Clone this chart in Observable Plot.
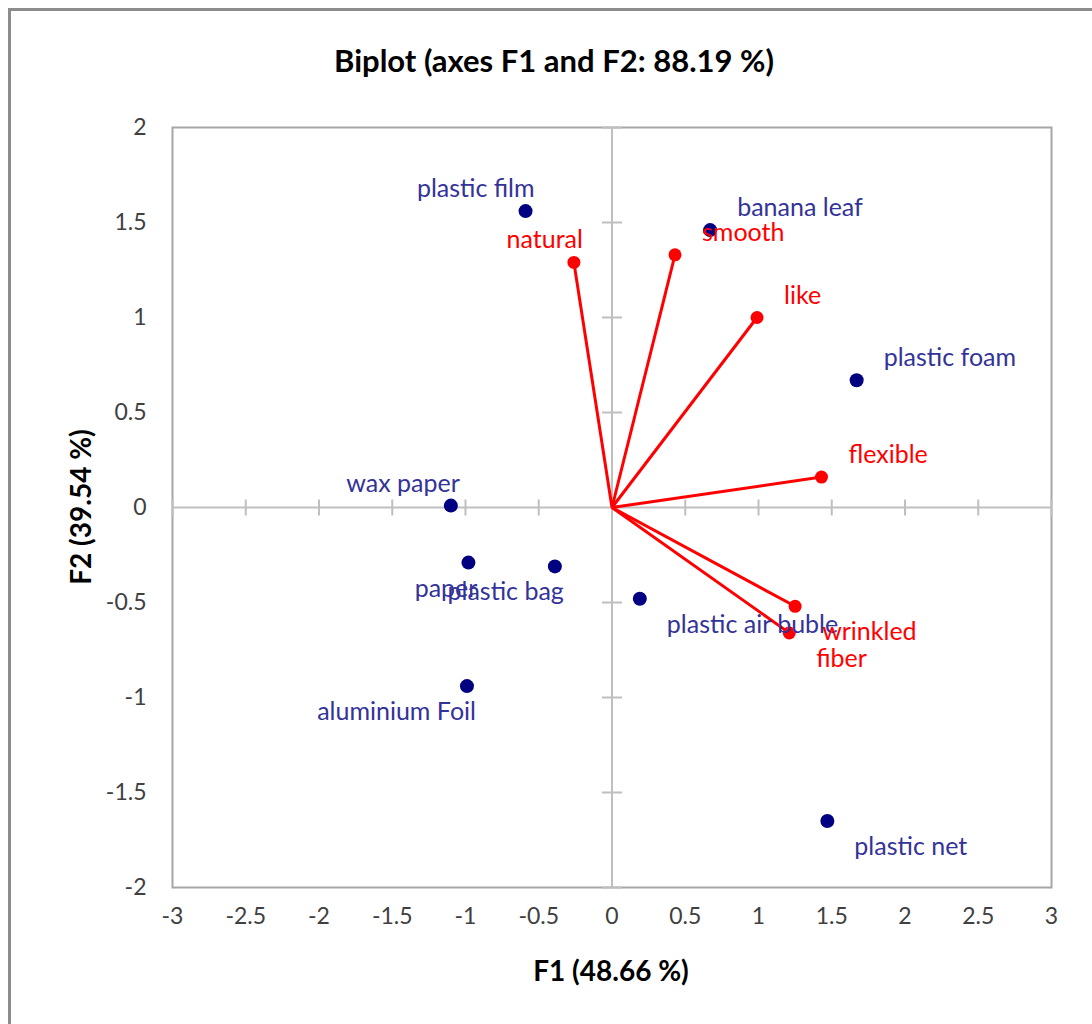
<!DOCTYPE html>
<html>
<head>
<meta charset="utf-8">
<script src="https://cdn.jsdelivr.net/npm/d3@7"></script>
<script src="https://cdn.jsdelivr.net/npm/@observablehq/plot@0.6"></script>
<style>
  html, body { margin: 0; padding: 0; background: #fff; overflow: hidden; width: 1092px; height: 1024px; }
  #page { position: relative; width: 1092px; height: 1024px; font-family: Lato, "Open Sans", sans-serif; }
  #outer { position: absolute; left: 8px; top: 8px; width: 1200px; height: 1200px; border: 3px solid #8c8c8c; box-sizing: border-box; }
  #chart { position: absolute; left: 0; top: 0; }
  .title { position: absolute; left: 0; width: 1108px; top: 41px; line-height: 38px; text-align: center; font-weight: bold; font-size: 31px; color: #000; }
  .xlabel { position: absolute; left: 0; width: 1222px; top: 953px; line-height: 34px; text-align: center; font-weight: bold; font-size: 28px; color: #000; }
  .ylabel { position: absolute; left: 80px; top: 507px; line-height: 34px; transform: translate(-50%, -50%) rotate(-90deg); font-weight: bold; font-size: 28px; color: #000; white-space: nowrap; }
</style>
</head>
<body>
<div id="page">
  <div id="outer"></div>
  <div id="chart"></div>
  <div class="title">Biplot (axes F1 and F2: 88.19 %)</div>
  <div class="xlabel">F1 (48.66 %)</div>
  <div class="ylabel">F2 (39.54 %)</div>
</div>
<script>
// Observations (blue)
const objects = ["plastic film", "banana leaf", "plastic foam", "wax paper", "paper", "plastic bag", "plastic air buble", "aluminium Foil", "plastic net"];
const objF1 = [-0.59, 0.67, 1.67, -1.10, -0.98, -0.39, 0.19, -0.99, 1.47];
const objF2 = [1.56, 1.46, 0.67, 0.01, -0.29, -0.31, -0.48, -0.94, -1.65];
const objSide = ["left", "right", "right", "left", "left", "left", "right", "left", "right"];
const objAbove = [true, true, true, true, false, false, false, false, false];

// Variables (red vectors)
const variables = ["natural", "smooth", "like", "flexible", "wrinkled", "fiber"];
const varF1 = [-0.26, 0.43, 0.99, 1.43, 1.25, 1.21];
const varF2 = [1.29, 1.33, 1.00, 0.16, -0.52, -0.66];
const varSide = ["left", "right", "right", "right", "right", "right"];
const varAbove = [true, true, true, true, false, false];

// Tick labels
const xTicks = [-3, -2.5, -2, -1.5, -1, -0.5, 0, 0.5, 1, 1.5, 2, 2.5, 3];
const yTicks = [-2, -1.5, -1, -0.5, 0, 0.5, 1, 1.5, 2];

const objs = objects.map((name, i) => ({name, x: objF1[i], y: objF2[i], side: objSide[i], above: objAbove[i]}));
const vars = variables.map((name, i) => ({name, x: varF1[i], y: varF2[i], side: varSide[i], above: varAbove[i]}));

const BLUE_DOT = "#000080";
const BLUE_TXT = "#333399";
const RED = "#ff0000";
const AXIS = "#bfbfbf";

// custom tick symbols (vertical / horizontal line segments)
const vline = {draw(ctx, size) { const r = Math.sqrt(size / Math.PI); ctx.moveTo(0, -r); ctx.lineTo(0, r); }};
const hline = {draw(ctx, size) { const r = Math.sqrt(size / Math.PI); ctx.moveTo(-r, 0); ctx.lineTo(r, 0); }};

function labelMarks(data, fill) {
  const marks = [];
  for (const side of ["left", "right"]) {
    for (const above of [true, false]) {
      const sub = data.filter(d => d.side === side && d.above === above);
      if (!sub.length) continue;
      marks.push(Plot.text(sub, {
        x: "x", y: "y", text: "name",
        textAnchor: side === "left" ? "end" : "start",
        dx: side === "left" ? 9 : 27,
        dy: above ? -22 : 26,
        fill, fontSize: 25, fontFamily: "Lato"
      }));
    }
  }
  return marks;
}

const chart = Plot.plot({
  width: 1092,
  height: 1024,
  marginLeft: 172,
  marginRight: 41,
  marginTop: 127,
  marginBottom: 137,
  style: {fontFamily: "Lato, sans-serif", fontSize: "23px", color: "#404040", background: "transparent", overflow: "visible"},
  x: {domain: [-3, 3], ticks: xTicks, tickFormat: d => String(d), tickSize: 0, tickPadding: 20, label: null},
  y: {domain: [-2, 2], ticks: yTicks, tickFormat: d => String(d), tickSize: 0, tickPadding: 26, label: null},
  marks: [
    Plot.frame({stroke: "#a6a6a6", strokeWidth: 2}),
    Plot.ruleX([0], {stroke: AXIS, strokeWidth: 2}),
    Plot.ruleY([0], {stroke: AXIS, strokeWidth: 2}),
    Plot.dot(xTicks.filter(t => t !== 0), {x: d => d, y: () => 0, symbol: vline, r: 8, stroke: AXIS, strokeWidth: 2}),
    Plot.dot(yTicks.filter(t => t !== 0), {x: () => 0, y: d => d, symbol: hline, r: 10, stroke: AXIS, strokeWidth: 2}),
    Plot.link(vars, {x1: () => 0, y1: () => 0, x2: "x", y2: "y", stroke: RED, strokeWidth: 3}),
    Plot.dot(vars, {x: "x", y: "y", r: 6.5, fill: RED}),
    Plot.dot(objs, {x: "x", y: "y", r: 7, fill: BLUE_DOT}),
    ...labelMarks(objs, BLUE_TXT),
    ...labelMarks(vars, RED)
  ]
});
document.getElementById("chart").appendChild(chart);
</script>
</body>
</html>
